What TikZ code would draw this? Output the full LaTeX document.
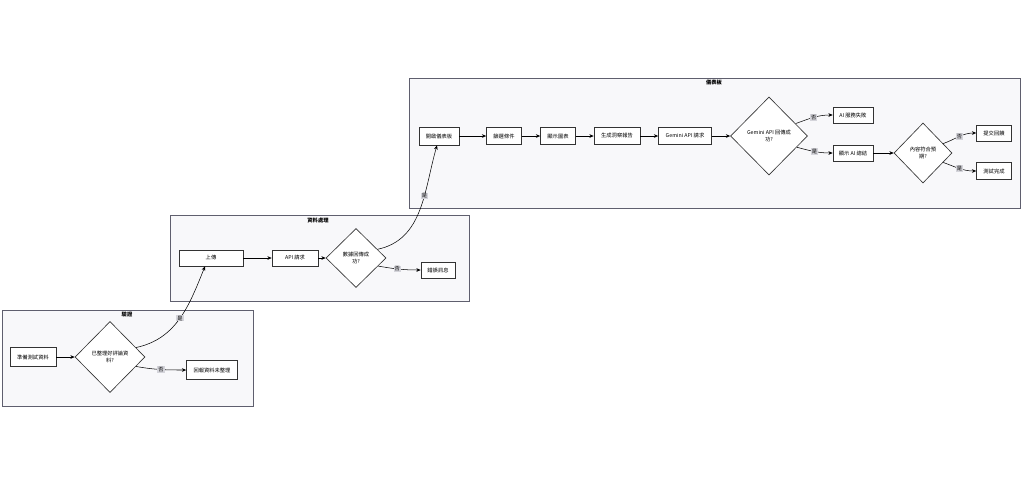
\documentclass[tikz,border=0pt]{standalone}
\usepackage{fontspec}
\setmainfont{Noto Sans CJK TC}
\usetikzlibrary{arrows.meta, positioning, shapes.geometric}
\definecolor{grpfill}{RGB}{248,248,250}
\definecolor{grpline}{RGB}{95,95,110}
\definecolor{lblfill}{RGB}{212,212,218}
\tikzset{
    grp/.style = {draw=grpline, fill=grpfill, line width=0.45pt, anchor=north west, inner sep=0pt},
    box/.style = {rectangle, draw=black!80, fill=white, line width=0.55pt, font=\fontsize{4.5}{5.5}\selectfont, inner sep=1pt},
    dec/.style = {diamond, draw=black!80, fill=white, line width=0.55pt, font=\fontsize{4.5}{6.5}\selectfont, align=center, inner sep=0pt},
    flow/.style = {-{Stealth[length=1.3mm, width=1.1mm]}, line width=0.45pt},
    lbl/.style = {fill=lblfill, font=\fontsize{4.5}{4.5}\selectfont, inner sep=0.8pt},
    ttl/.style = {font=\bfseries\fontsize{4.5}{5}\selectfont}
}

\begin{document}
\begin{tikzpicture}[x=0.3mm, y=-0.3mm]
\useasboundingbox (0,0) rectangle (1024,484);

% Groups
\node[grp, minimum width=183.3mm, minimum height=39mm] (gdash) at (409,78) {};
\node[grp, minimum width=89.7mm, minimum height=25.8mm] (gdata) at (170,215) {};
\node[grp, minimum width=75.3mm, minimum height=28.8mm] (gcheck) at (2,310) {};
\node[ttl] (tdash) at (714,83) {儀表板};
\node[ttl] (tdata) at (318,220) {資料處理};
\node[ttl] (tcheck) at (127,314) {驗證};

% Check group
\node[box, minimum width=13.8mm, minimum height=5.7mm] (prep) at (33,357) {準備測試資料};
\node[dec, minimum width=21mm, minimum height=21.3mm] (chk1) at (110,357) {已整理好評論資\\料?};
\node[box, minimum width=15.3mm, minimum height=5.7mm] (nodata) at (212,370) {回報資料未整理};

% Data group
\node[box, minimum width=19.2mm, minimum height=4.8mm] (upl) at (211,258) {上傳};
\node[box, minimum width=13.8mm, minimum height=4.8mm] (api) at (295,258) {API 請求};
\node[dec, minimum width=18mm, minimum height=17.7mm] (chk2) at (356,258) {數據回傳成\\功?};
\node[box, minimum width=10.2mm, minimum height=4.8mm] (err) at (438,270) {錯誤訊息};

% Dashboard group
\node[box, minimum width=12mm, minimum height=5.4mm] (open) at (439,136) {開啟儀表板};
\node[box, minimum width=10.5mm, minimum height=5.1mm] (filt) at (504,136) {篩選條件};
\node[box, minimum width=10.5mm, minimum height=5.1mm] (chart) at (558,136) {顯示圖表};
\node[box, minimum width=13.8mm, minimum height=5.1mm] (rep) at (617,136) {生成洞察報告};
\node[box, minimum width=15.9mm, minimum height=5.1mm] (gem) at (685,136) {Gemini API 請求};
\node[dec, minimum width=23.1mm, minimum height=23.4mm] (gemok) at (769,136) {Gemini API 回傳成\\功?};
\node[box, minimum width=12mm, minimum height=4.8mm] (fail) at (853,115) {AI 服務失敗};
\node[box, minimum width=12mm, minimum height=4.8mm] (show) at (853,153) {顯示 AI 總結};
\node[dec, minimum width=17.4mm, minimum height=18mm] (match) at (923,153) {內容符合預\\期?};
\node[box, minimum width=10.5mm, minimum height=4.8mm] (fb) at (994,133) {提交回饋};
\node[box, minimum width=10.5mm, minimum height=5.1mm] (done) at (994,171) {測試完成};

% Check flow
\draw[flow] (prep.east) -- (chk1.west);
\draw[flow] (chk1.-20) to[out=-10, in=180] node[lbl, pos=0.5] {否} (nodata.west);
\draw[flow] (chk1.20) to[out=12, in=-112] node[lbl, pos=0.5] {是} ([xshift=-1.8mm]upl.south);

% Data flow
\draw[flow] (upl.east) -- (api.west);
\draw[flow] (api.east) -- (chk2.west);
\draw[flow] (chk2.-20) to[out=-10, in=180] node[lbl, pos=0.45] {否} (err.west);
\draw[flow] (chk2.22) to[out=12, in=-106] node[lbl, pos=0.62] {是} ([xshift=-0.6mm]open.south);

% Dashboard flow
\draw[flow] (open.east) -- (filt.west);
\draw[flow] (filt.east) -- (chart.west);
\draw[flow] (chart.east) -- (rep.west);
\draw[flow] (rep.east) -- (gem.west);
\draw[flow] (gem.east) -- (gemok.west);
\draw[flow] (gemok.25) to[out=20, in=180] node[lbl, pos=0.5] {否} (fail.west);
\draw[flow] (gemok.-22) to[out=-15, in=180] node[lbl, pos=0.5] {是} (show.west);
\draw[flow] (show.east) -- (match.west);
\draw[flow] (match.25) to[out=20, in=180] node[lbl, pos=0.5] {否} (fb.west);
\draw[flow] (match.-25) to[out=-20, in=180] node[lbl, pos=0.5] {是} (done.west);
\end{tikzpicture}
\end{document}
